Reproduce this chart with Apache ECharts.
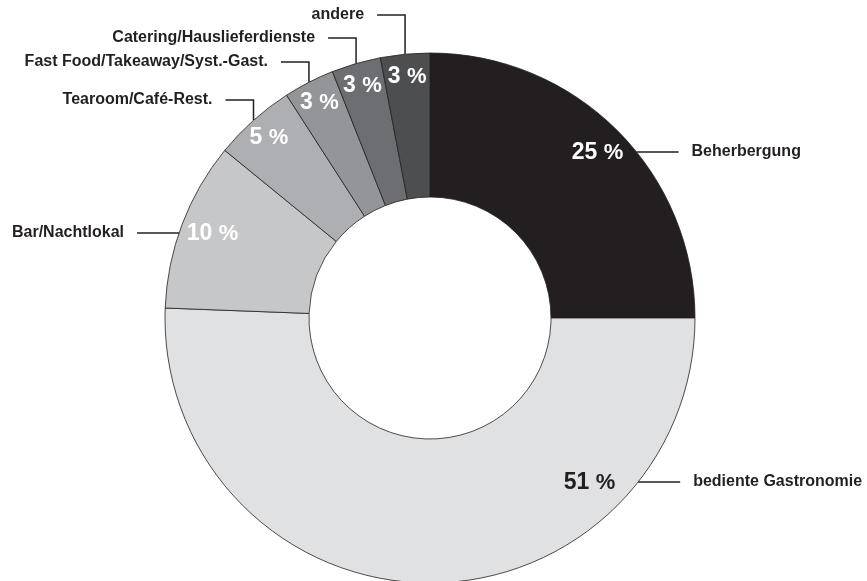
<!DOCTYPE html>
<html>
<head>
<meta charset="utf-8">
<script src="https://cdn.jsdelivr.net/npm/echarts@6/dist/echarts.min.js"></script>
<style>
  html, body { margin: 0; padding: 0; background: #fff; }
  #chart { width: 867px; height: 581px; }
</style>
</head>
<body>
<div id="chart"></div>
<script>
// data, clockwise from 12 o'clock
const categories = [
  'Beherbergung',
  'bediente Gastronomie',
  'Bar/Nachtlokal',
  'Tearoom/Café-Rest.',
  'Fast Food/Takeaway/Syst.-Gast.',
  'Catering/Hauslieferdienste',
  'andere'
];
const shares = [25, 50.6, 10.3, 5.0, 3.1, 3.0, 3.0];

// styles
const sliceColors = ['#231f20', '#e0e1e3', '#c6c7c9', '#aeafb2', '#939598', '#6d6e71', '#4d4e50'];
const pctColors = ['#fff', '#231f20', '#fff', '#fff', '#fff', '#fff', '#fff'];
const FONT = "'Liberation Sans', Arial, sans-serif";
const INK = '#231f20';

// layout
const CX = 430, CY = 318, R_IN = 121, R_OUT = 265, R_PCT = 242;
const calloutY = [152, 482, 233, 100, 62, 38, 15];
const calloutSide = [1, 1, -1, -1, -1, -1, -1];
const elbow = [false, false, false, true, true, true, true];
// percentage sits on the callout row (gap to the line start) or, with 0, at mid-angle
const pctRowGap = [14, 22, 8, 0, 0, 0, 0];
const LEAD = 42, HOOK = 28, GAP = 13;

const total = shares.reduce((a, b) => a + b, 0);

function midRad(i) {
  let before = 0;
  for (let k = 0; k < i; k++) before += shares[k];
  return (before + shares[i] / 2) / total * 2 * Math.PI;
}
function polar(i, r) {
  const a = midRad(i);
  return [CX + r * Math.sin(a), CY - r * Math.cos(a)];
}
function edgeX(i, y) {
  return CX + calloutSide[i] * Math.sqrt(R_OUT * R_OUT - (y - CY) * (y - CY));
}

// names + leader lines
function nameLayout(p) {
  const i = p.dataIndex, y = calloutY[i], side = calloutSide[i];
  let pts;
  if (elbow[i]) {
    const s = polar(i, R_OUT);
    pts = [s, [s[0], y], [s[0] + side * HOOK, y]];
  } else {
    const sx = edgeX(i, y);
    pts = [[sx, y], [sx + side * LEAD / 2, y], [sx + side * LEAD, y]];
  }
  return {
    x: pts[2][0] + side * GAP,
    y: y,
    align: side > 0 ? 'left' : 'right',
    verticalAlign: 'middle',
    labelLinePoints: pts
  };
}

// percentages
function pctLayout(p) {
  const i = p.dataIndex;
  if (pctRowGap[i]) {
    const y = calloutY[i] + 1;
    return {
      x: edgeX(i, y) - calloutSide[i] * pctRowGap[i],
      y: y,
      align: calloutSide[i] > 0 ? 'right' : 'left',
      verticalAlign: 'middle'
    };
  }
  const c = polar(i, R_PCT);
  return { x: c[0], y: c[1], align: 'center', verticalAlign: 'middle' };
}

const sliceData = categories.map((name, i) => ({
  name: name,
  value: shares[i],
  itemStyle: { color: sliceColors[i] },
  label: { color: pctColors[i] }
}));
const nameData = categories.map((name, i) => ({ name: name, value: shares[i] }));

const chart = echarts.init(document.getElementById('chart'));

chart.setOption({
  animation: false,
  backgroundColor: '#fff',
  series: [
    {
      type: 'pie',
      center: [CX, CY],
      radius: [R_IN, R_OUT],
      startAngle: 90,
      clockwise: true,
      avoidLabelOverlap: false,
      silent: true,
      itemStyle: { borderColor: INK, borderWidth: 0.8 },
      label: {
        show: true,
        position: 'inside',
        fontFamily: FONT,
        formatter: p => '{n|' + Math.round(p.value) + ' }{p|%}',
        rich: {
          n: { fontFamily: FONT, fontSize: 23, fontWeight: 'bold' },
          p: { fontFamily: FONT, fontSize: 22, fontWeight: 'bold' }
        }
      },
      labelLine: { show: false },
      labelLayout: pctLayout,
      data: sliceData
    },
    {
      type: 'pie',
      center: [CX, CY],
      radius: [R_IN, R_OUT],
      startAngle: 90,
      clockwise: true,
      avoidLabelOverlap: false,
      silent: true,
      itemStyle: { color: 'transparent', borderWidth: 0 },
      label: {
        show: true,
        position: 'outside',
        formatter: '{b}',
        color: INK,
        fontFamily: FONT,
        fontSize: 16,
        fontWeight: 'bold'
      },
      labelLine: {
        show: true,
        length: 20,
        length2: 20,
        lineStyle: { color: INK, width: 1.5 }
      },
      labelLayout: nameLayout,
      data: nameData
    }
  ]
});
</script>
</body>
</html>
